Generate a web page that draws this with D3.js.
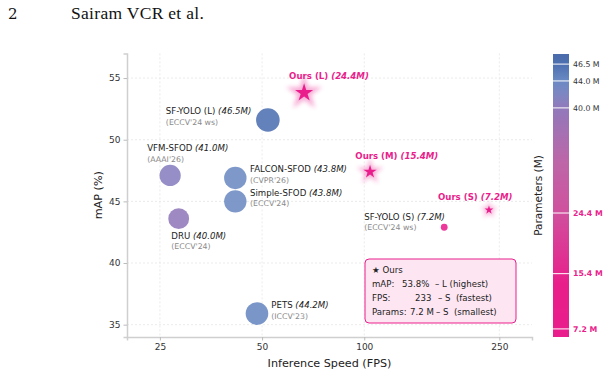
<!DOCTYPE html>
<html>
<head>
<meta charset="utf-8">
<script src="https://cdn.jsdelivr.net/npm/d3@7"></script>
<style>
  body { margin: 0; background: #fff; }
  svg { display: block; font-family: "DejaVu Sans", sans-serif; }
</style>
</head>
<body>
<svg id="chart" width="609" height="375"></svg>
<script>
// Baselines
const baseNames = ["SF-YOLO (L)", "VFM-SFOD", "FALCON-SFOD", "Simple-SFOD", "DRU", "PETS", "SF-YOLO (S)"];
const baseVenues = ["(ECCV'24 ws)", "(AAAI'26)", "(CVPR'26)", "(ECCV'24)", "(ECCV'24)", "(ICCV'23)", "(ECCV'24 ws)"];
const baseFps = [52, 26.8, 41.7, 41.7, 28.4, 48.3, 172];
const baseMap = [51.6, 47.1, 46.9, 45.0, 43.6, 35.9, 42.9];
const baseParams = [46.5, 41.0, 43.8, 43.8, 40.0, 44.2, 7.2];

// Ours
const oursNames = ["Ours (L)", "Ours (M)", "Ours (S)"];
const oursFps = [66.5, 104, 233];
const oursMap = [53.8, 47.4, 44.3];
const oursParams = [24.4, 15.4, 7.2];

// ticks
const xTicks = [25, 50, 100, 250];
const yTicks = [35, 40, 45, 50, 55];
const cbarTicks = [46.5, 44.0, 40.0, 24.4, 15.4, 7.2];
const cbarHighlight = [24.4, 15.4, 7.2];

// summary box lines
const summaryRows = [
  ["mAP:", "53.8%", "\u2013 L (highest)"],
  ["FPS:", "233", "\u2013 S  (fastest)"],
  ["Params:", "7.2 M", "\u2013 S  (smallest)"]
];

const PINK = "#e91e8c";

const svg = d3.select("#chart");
const margin = { top: 53.4, right: 77, bottom: 38, left: 127 };
const W = 609, H = 375;

const x = d3.scaleLog().domain([20, 312]).range([margin.left, W - margin.right]);
const y = d3.scaleLinear().domain([34, 57]).range([H - margin.bottom, margin.top]);

// colour map: pink -> purple -> blue
const color = d3.scaleLinear()
  .domain([6, 14, 24.4, 32, 40, 42, 44, 46.5, 48])
  .range(["#e91e8c", "#e81f8b", "#d0509e", "#bd66a8", "#9179bb", "#7e86c2", "#6a8ac3", "#4d70b0", "#4a6cab"])
  .interpolate(d3.interpolateRgb);

const r = d3.scaleLinear().domain([7.2, 46.5]).range([3.4, 11.8]);

// header of the paper page
svg.append("text").attr("x", 8).attr("y", 19)
  .attr("font-family", "'DejaVu Serif', 'Liberation Serif', serif")
  .attr("font-size", 15).attr("fill", "#111").text("2");
svg.append("text").attr("x", 71).attr("y", 19)
  .attr("font-family", "'Liberation Serif', 'DejaVu Serif', serif")
  .attr("font-size", 17.5).attr("letter-spacing", 0.3).attr("fill", "#111").text("Sairam VCR et al.");

// grid
const grid = svg.append("g").attr("stroke", "#e6e6e6").attr("stroke-dasharray", "2,2").attr("stroke-width", 0.8);
grid.selectAll(".gx").data(xTicks).enter().append("line")
  .attr("x1", d => x(d)).attr("x2", d => x(d))
  .attr("y1", y.range()[1]).attr("y2", y.range()[0]);
grid.selectAll(".gy").data(yTicks).enter().append("line")
  .attr("x1", x.range()[0]).attr("x2", x.range()[1])
  .attr("y1", d => y(d)).attr("y2", d => y(d));

// axes
const xAxis = svg.append("g")
  .attr("transform", `translate(0,${y.range()[0]})`)
  .call(d3.axisBottom(x).tickValues(xTicks).tickFormat(d3.format("d")).tickSize(3.5).tickPadding(3));
const yAxis = svg.append("g")
  .attr("transform", `translate(${x.range()[0]},0)`)
  .call(d3.axisLeft(y).tickValues(yTicks).tickSize(3.5).tickPadding(3));
[xAxis, yAxis].forEach(a => {
  a.select(".domain").attr("stroke", "#cfcfcf").attr("stroke-width", 1.5);
  a.selectAll(".tick line").attr("stroke", "#bbb");
  a.selectAll(".tick text").attr("fill", "#333").attr("font-size", 9)
    .attr("font-family", "'DejaVu Sans', sans-serif");
});

svg.append("text")
  .attr("x", (x.range()[0] + x.range()[1]) / 2).attr("y", 367)
  .attr("text-anchor", "middle").attr("font-size", 11.2).attr("fill", "#222")
  .text("Inference Speed (FPS)");
svg.append("text")
  .attr("transform", `translate(102,${(y.range()[0] + y.range()[1]) / 2}) rotate(-90)`)
  .attr("text-anchor", "middle").attr("font-size", 11.2).attr("fill", "#222")
  .text("mAP (%)");

// baseline bubbles
const base = baseNames.map((n, i) => ({
  name: n, venue: baseVenues[i], fps: baseFps[i], map: baseMap[i], params: baseParams[i]
}));
svg.append("g").selectAll("circle").data(base).enter().append("circle")
  .attr("cx", d => x(d.fps)).attr("cy", d => y(d.map)).attr("r", d => r(d.params))
  .attr("fill", d => color(d.params)).attr("fill-opacity", 0.88);

// label offsets (name baseline relative to marker centre)
const baseLabelPos = {
  "SF-YOLO (L)": [-102, -6],
  "VFM-SFOD": [-23, -24.3],
  "FALCON-SFOD": [14.7, -6],
  "Simple-SFOD": [14.7, -5.6],
  "DRU": [-7.4, 20],
  "PETS": [14.3, -5.3],
  "SF-YOLO (S)": [-80, -7.6]
};
const bl = svg.append("g").selectAll("g").data(base).enter().append("g")
  .attr("transform", d => {
    const o = baseLabelPos[d.name];
    return `translate(${x(d.fps) + o[0]},${y(d.map) + o[1]})`;
  });
const nameText = bl.append("text").attr("font-size", 8.6).attr("fill", "#222");
nameText.append("tspan").text(d => d.name + " ");
nameText.append("tspan").attr("font-style", "italic").text(d => `(${d.params.toFixed(1)}M)`);
bl.append("text").attr("y", 10.6).attr("font-size", 7.8).attr("fill", "#8a8a8a").text(d => d.venue);

// ours: glowing stars
const defs = svg.append("defs");
defs.append("filter").attr("id", "glow").attr("x", "-50%").attr("y", "-50%")
  .attr("width", "200%").attr("height", "200%")
  .append("feGaussianBlur").attr("stdDeviation", 2.2);

const ours = oursNames.map((n, i) => ({ name: n, fps: oursFps[i], map: oursMap[i], params: oursParams[i] }));
const starR = d3.scaleLinear().domain([7.2, 24.4]).range([4.6, 9.5]);
const starPath = rad => d3.symbol().type(d3.symbolStar).size(rad * rad / 0.8908130915292852)();

const og = svg.append("g").selectAll("g").data(ours).enter().append("g")
  .attr("transform", d => `translate(${x(d.fps)},${y(d.map)})`);
og.append("path").attr("d", d => starPath(starR(d.params) * 2))
  .attr("fill", PINK).attr("opacity", 0.35).attr("filter", "url(#glow)");
og.append("path").attr("d", d => starPath(starR(d.params))).attr("fill", PINK);

const oursLabelPos = { "Ours (L)": [-15, -14], "Ours (M)": [-14.7, -12.7], "Ours (S)": [-51, -10.4] };
const ot = og.append("text")
  .attr("x", d => oursLabelPos[d.name][0]).attr("y", d => oursLabelPos[d.name][1])
  .attr("font-size", 8.6).attr("font-weight", "bold").attr("fill", PINK);
ot.append("tspan").text(d => d.name + " ");
ot.append("tspan").attr("font-style", "italic").text(d => `(${d.params.toFixed(1)}M)`);

// summary box
const box = svg.append("g").attr("transform", "translate(365,259)");
box.append("rect").attr("width", 151).attr("height", 64).attr("rx", 4)
  .attr("fill", "#fde6f2").attr("stroke", PINK).attr("stroke-width", 1);
box.append("text").attr("x", 7).attr("y", 14).attr("font-size", 8.6).attr("fill", "#222")
  .text("\u2605  Ours");
const colX = [[7, 37, 70], [7, 50, 73], [7, 45, 71]];
summaryRows.forEach((row, i) => {
  row.forEach((s, j) => {
    box.append("text").attr("x", colX[i][j]).attr("y", 28 + i * 14)
      .attr("font-size", 8.6).attr("fill", "#222")
      .attr("xml:space", "preserve").style("white-space", "pre").text(s);
  });
});

// colour bar
const cb = { x: 553, w: 16 };
const cy = d3.scaleLinear().domain([6, 48]).range([337, 54]);
const grad = defs.append("linearGradient").attr("id", "cbar")
  .attr("x1", 0).attr("y1", 1).attr("x2", 0).attr("y2", 0);
d3.range(6, 48.01, 0.5).forEach(v => {
  grad.append("stop").attr("offset", (v - 6) / 42).attr("stop-color", color(v));
});
svg.append("rect").attr("x", cb.x).attr("y", cy(48)).attr("width", cb.w)
  .attr("height", cy(6) - cy(48)).attr("fill", "url(#cbar)");
svg.append("g").selectAll("line").data(cbarTicks).enter().append("line")
  .attr("x1", cb.x).attr("x2", cb.x + cb.w)
  .attr("y1", d => cy(d)).attr("y2", d => cy(d))
  .attr("stroke", "#fff").attr("stroke-width", 1);
svg.append("g").selectAll("text").data(cbarTicks).enter().append("text")
  .attr("x", cb.x + cb.w + 4).attr("y", d => cy(d)).attr("dy", "0.35em")
  .attr("font-size", 7.8)
  .attr("font-weight", d => cbarHighlight.includes(d) ? "bold" : "normal")
  .attr("fill", d => cbarHighlight.includes(d) ? PINK : "#333")
  .text(d => d.toFixed(1) + " M");
svg.append("text")
  .attr("transform", `translate(542,${(cy(6) + cy(48)) / 2}) rotate(-90)`)
  .attr("text-anchor", "middle").attr("font-size", 10.5).attr("fill", "#222")
  .text("Parameters (M)");
</script>
</body>
</html>
